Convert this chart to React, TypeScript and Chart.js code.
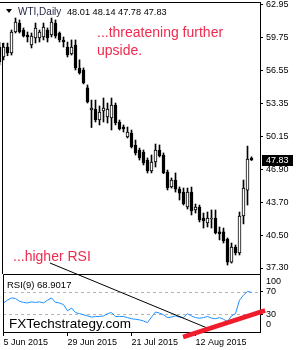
import React, { useEffect, useRef } from 'react';
import { Chart, registerables } from 'chart.js';

Chart.register(...registerables);

// ---- data ----
const symbolLabel = 'WTI,Daily';
const opens = [
  58.85, 57.88, 58.85, 58.27, 60.32, 61.19, 60.51, 60.02, 59.05, 59.73, 59.73, 59.83, 60.51, 60.02, 61.19, 60.22,
  59.54, 58.85, 58.17, 59.05, 56.81, 56.61, 54.86, 52.71, 52.81, 51.73, 52.61, 52.03, 51.93, 53.2, 51.54, 51.05,
  50.08, 50.47, 49.3, 48.81, 48.61, 47.83, 46.76, 47.64, 48.81, 48.32, 46.66, 45.2, 45.88, 45.0, 44.71, 43.25,
  44.71, 42.96, 43.25, 42.18, 41.69, 42.08, 42.18, 40.82, 40.82, 40.13, 37.88, 39.35, 38.77, 42.37, 44.9, 48.01,
];
const highs = [
  59.3, 59.24, 59.24, 60.51, 61.68, 61.49, 60.71, 60.32, 60.22, 61.19, 60.51, 61.19, 60.71, 61.68, 61.49, 60.32,
  59.83, 59.34, 59.54, 59.54, 57.6, 56.81, 55.15, 53.68, 53.68, 53.1, 53.88, 53.39, 53.88, 53.39, 51.73, 51.25,
  51.05, 50.76, 49.78, 49.0, 48.81, 48.03, 48.32, 49.39, 49.3, 48.52, 46.86, 46.08, 46.57, 45.2, 45.1, 45.1,
  45.2, 43.54, 43.44, 42.66, 42.76, 42.96, 42.96, 41.3, 41.2, 40.23, 39.74, 39.54, 42.76, 45.88, 49.19, 48.14,
];
const lows = [
  57.1, 57.59, 58.0, 58.07, 60.22, 60.22, 59.83, 59.34, 58.76, 59.24, 59.34, 59.54, 59.34, 59.83, 59.73, 59.34,
  58.85, 57.88, 58.07, 56.61, 56.2, 55.25, 53.39, 51.0, 51.54, 51.25, 51.54, 51.44, 50.76, 51.25, 50.76, 50.56,
  49.98, 49.0, 48.32, 47.83, 47.35, 46.57, 46.57, 47.15, 48.13, 46.5, 44.91, 45.1, 44.71, 43.93, 43.44, 43.05,
  42.47, 42.66, 41.79, 41.2, 41.3, 41.2, 40.62, 40.04, 39.74, 37.59, 37.78, 38.57, 38.57, 41.6, 43.44, 47.78,
];
const closes = [
  57.4, 58.85, 58.27, 60.32, 61.29, 60.32, 59.93, 59.83, 59.93, 60.71, 60.32, 60.8, 59.73, 61.29, 59.93, 59.54,
  59.34, 58.07, 58.85, 56.81, 56.32, 55.34, 53.49, 52.9, 51.73, 52.51, 52.9, 52.81, 53.2, 51.44, 50.86, 50.86,
  50.56, 49.1, 48.52, 48.03, 47.54, 46.76, 47.64, 48.81, 48.22, 46.57, 45.1, 45.88, 45.0, 44.61, 43.54, 44.71,
  42.86, 43.25, 41.98, 41.89, 42.18, 42.18, 40.72, 40.62, 39.94, 37.88, 39.35, 38.77, 42.37, 45.1, 47.93, 47.83,
];
// trading-day index of each candle (5 Jun 2015 = 0)
const barIndex = closes.map((_, i) => i - 1);

const rsiPeriod = 9;
const rsiValues = [
  50, 55, 59, 58, 53, 51, 50, 52, 51, 52, 50, 55, 59, 51, 50, 47,
  36, 41, 33, 31, 29, 27, 25, 26, 26, 27, 31, 33, 26, 26, 26, 24,
  22, 21, 20, 18, 15, 25, 34, 32, 29, 24, 25, 27, 25, 24, 31, 27,
  24, 23, 24, 26, 23, 22, 24, 21, 17, 27, 31, 55, 64, 70.5, 68.9017,
];
const rsiIndex = rsiValues.map((_, i) => i);

const priceTicks = [62.95, 59.75, 56.55, 53.35, 50.15, 46.9, 43.7, 40.5, 37.3];
const rsiLevels = [30, 70];
const rsiEdgeLabels = ['100', '0'];
const dateTickIndex = [0, 16, 32, 48];
const dateTickLabels = ['5 Jun 2015', '29 Jun 2015', '21 Jul 2015', '12 Aug 2015'];

const noteTop = ['...threatening further', 'upside.'];
const noteBottom = '...higher RSI';
const watermark = 'FXTechstrategy.com';

// trend lines: start on price panel (bar, price) -> end on RSI panel (bar, rsi)
const blackLineStart = { x: 11.6, y: 37.79 };
const blackLineEnd = { x: 51.6, y: 3.5 };
const redLine = [
  { x: 44.9, y: -10.5 },
  { x: 65.4, y: 36.6 },
];

const FONT = '"Liberation Sans", Arial, sans-serif';
const RED_TEXT = '#ee2a4e';

export default function App() {
  const mainRef = useRef<HTMLCanvasElement>(null);
  const rsiRef = useRef<HTMLCanvasElement>(null);

  useEffect(() => {
    document.body.style.margin = '0';

    const bodies = barIndex.map((k, i) => ({ x: k, y: [opens[i], closes[i]] }));
    const wicks = barIndex.map((k, i) => ({ x: k, y: [lows[i], highs[i]] }));
    const bodyColors = barIndex.map((_, i) => (closes[i] >= opens[i] ? '#ffffff' : '#000000'));

    const mainDecor = {
      id: 'mainDecor',
      afterDraw(chart: any) {
        const { ctx, chartArea, scales } = chart;
        ctx.save();
        ctx.strokeStyle = '#000';
        ctx.lineWidth = 1;
        ctx.beginPath();
        ctx.moveTo(0, chartArea.top - 0.5);
        ctx.lineTo(chartArea.right + 1, chartArea.top - 0.5);
        ctx.stroke();
        ctx.beginPath();
        ctx.moveTo(2.5, 43);
        ctx.lineTo(2.5, chartArea.bottom);
        ctx.stroke();

        // title
        ctx.fillStyle = '#000';
        ctx.beginPath();
        ctx.moveTo(6, 9);
        ctx.lineTo(12, 9);
        ctx.lineTo(9, 13);
        ctx.closePath();
        ctx.fill();
        ctx.textAlign = 'left';
        ctx.textBaseline = 'alphabetic';
        ctx.font = `10px ${FONT}`;
        ctx.fillStyle = '#1c2240';
        ctx.fillText(symbolLabel, 18, 15);
        const n = closes.length - 1;
        const ohlc = [opens[n], highs[n], lows[n], closes[n]].map((v) => v.toFixed(2)).join(' ');
        ctx.font = `9.2px ${FONT}`;
        ctx.fillStyle = '#000';
        ctx.fillText(ohlc, 67, 15);

        // notes
        ctx.fillStyle = RED_TEXT;
        ctx.font = `14px ${FONT}`;
        ctx.fillText(noteTop[0], 97, 37);
        ctx.fillText(noteTop[1], 97, 55);
        ctx.fillText(noteBottom, 13, 261);

        // last price tag
        const last = closes[n];
        const y = scales.y.getPixelForValue(last);
        ctx.fillStyle = '#000';
        ctx.fillRect(chartArea.right + 2, Math.round(y) - 5, 31, 11);
        ctx.fillStyle = '#fff';
        ctx.font = `9px ${FONT}`;
        ctx.textBaseline = 'middle';
        ctx.fillText(last.toFixed(2), chartArea.right + 6, Math.round(y) + 0.5);
        ctx.restore();
      },
    };

    const main = new Chart(mainRef.current as HTMLCanvasElement, {
      type: 'bar',
      data: {
        datasets: [
          {
            label: 'body',
            data: bodies as any,
            backgroundColor: bodyColors,
            borderColor: '#000',
            borderWidth: 1,
            borderSkipped: false,
            barThickness: 3,
            grouped: false,
            order: 0,
            minBarLength: 1,
          } as any,
          {
            label: 'wick',
            data: wicks as any,
            backgroundColor: '#000',
            borderWidth: 0,
            barThickness: 1,
            grouped: false,
            order: 1,
          } as any,
        ],
      },
      options: {
        animation: false,
        responsive: false,
        devicePixelRatio: 1,
        events: [],
        layout: { padding: { top: 3, left: 0, right: 0, bottom: 0 } },
        plugins: { legend: { display: false }, tooltip: { enabled: false } },
        scales: {
          x: { type: 'linear', display: false, min: -0.875, max: 64.125, offset: false },
          y: {
            position: 'right',
            min: 36.715,
            max: 63.145,
            afterBuildTicks: (s: any) => {
              s.ticks = priceTicks.map((v) => ({ value: v }));
            },
            afterFit: (s: any) => {
              s.width = 40;
              s.paddingTop = 0;
              s.paddingBottom = 0;
              s.paddingLeft = 0;
              s.paddingRight = 0;
            },
            ticks: {
              autoSkip: false,
              padding: 3,
              color: '#000',
              font: { family: FONT, size: 9 },
              callback: (v: any) => Number(v).toFixed(2),
            },
            grid: { drawOnChartArea: false, drawTicks: true, tickLength: 3, color: '#000' },
            border: { display: true, color: '#000', width: 1 },
          },
        },
      } as any,
      plugins: [mainDecor],
    });

    const rsiDecor = {
      id: 'rsiDecor',
      beforeDatasetsDraw(chart: any) {
        const { ctx, chartArea, scales } = chart;
        ctx.save();
        ctx.strokeStyle = '#b4b4b4';
        ctx.lineWidth = 1;
        ctx.setLineDash([3, 3]);
        rsiLevels.forEach((lv) => {
          const y = Math.round(scales.y.getPixelForValue(lv)) + 0.5;
          ctx.beginPath();
          ctx.moveTo(chartArea.left, y);
          ctx.lineTo(chartArea.right, y);
          ctx.stroke();
        });
        ctx.restore();
      },
      afterDraw(chart: any) {
        const { ctx, chartArea, scales } = chart;
        ctx.save();
        ctx.strokeStyle = '#000';
        ctx.lineWidth = 1;
        ctx.beginPath();
        ctx.moveTo(chartArea.left + 0.5, chartArea.bottom);
        ctx.lineTo(chartArea.left + 0.5, chartArea.top + 0.5);
        ctx.lineTo(chartArea.right + 1, chartArea.top + 0.5);
        ctx.stroke();

        ctx.fillStyle = '#000';
        ctx.font = `9px ${FONT}`;
        ctx.textAlign = 'left';
        ctx.textBaseline = 'middle';
        ctx.fillText(rsiEdgeLabels[0], chartArea.right + 6, chartArea.top + 8);
        ctx.fillText(rsiEdgeLabels[1], chartArea.right + 6, chartArea.bottom - 7);

        ctx.textBaseline = 'alphabetic';
        ctx.font = `9.5px ${FONT}`;
        ctx.fillText(`RSI(${rsiPeriod}) ${rsiValues[rsiValues.length - 1].toFixed(4)}`, 7, 288);

        ctx.font = `13.5px ${FONT}`;
        ctx.fillText(watermark, 9, 328);

        // black trend line from price panel to RSI panel
        const mx = main.scales.x;
        const my = main.scales.y;
        ctx.strokeStyle = '#000';
        ctx.lineWidth = 1;
        ctx.beginPath();
        ctx.moveTo(mx.getPixelForValue(blackLineStart.x), my.getPixelForValue(blackLineStart.y));
        ctx.lineTo(scales.x.getPixelForValue(blackLineEnd.x), scales.y.getPixelForValue(blackLineEnd.y));
        ctx.stroke();

        // red trend line on RSI
        ctx.strokeStyle = '#f01c2c';
        ctx.lineWidth = 4.5;
        ctx.beginPath();
        ctx.moveTo(scales.x.getPixelForValue(redLine[0].x), scales.y.getPixelForValue(redLine[0].y));
        ctx.lineTo(scales.x.getPixelForValue(redLine[1].x), scales.y.getPixelForValue(redLine[1].y));
        ctx.stroke();
        ctx.restore();
      },
    };

    const rsi = new Chart(rsiRef.current as HTMLCanvasElement, {
      type: 'line',
      data: {
        datasets: [
          {
            label: 'RSI',
            data: rsiIndex.map((k, i) => ({ x: k, y: rsiValues[i] })),
            borderColor: '#1e90ff',
            borderWidth: 1,
            pointRadius: 0,
            tension: 0,
            fill: false,
          },
        ],
      },
      options: {
        animation: false,
        responsive: false,
        devicePixelRatio: 1,
        events: [],
        layout: { padding: { top: 274, left: 3, right: 0, bottom: 0 } },
        plugins: { legend: { display: false }, tooltip: { enabled: false } },
        scales: {
          x: {
            type: 'linear',
            min: -0.125,
            max: 64.125,
            offset: false,
            afterBuildTicks: (s: any) => {
              s.ticks = dateTickIndex.map((v) => ({ value: v }));
            },
            afterFit: (s: any) => {
              s.height = 18;
              s.paddingLeft = 0;
              s.paddingRight = 0;
              s.paddingTop = 0;
              s.paddingBottom = 0;
            },
            ticks: {
              autoSkip: false,
              maxRotation: 0,
              minRotation: 0,
              align: 'start',
              padding: 1,
              color: '#000',
              font: { family: FONT, size: 9 },
              callback: (v: any) => {
                const i = dateTickIndex.indexOf(Number(v));
                return i >= 0 ? dateTickLabels[i] : '';
              },
            },
            grid: { drawOnChartArea: false, drawTicks: true, tickLength: 4, color: '#000' },
            border: { display: true, color: '#000', width: 1 },
          },
          y: {
            position: 'right',
            min: -1.6,
            max: 101.5,
            afterBuildTicks: (s: any) => {
              s.ticks = rsiLevels.map((v) => ({ value: v }));
            },
            afterFit: (s: any) => {
              s.width = 40;
              s.paddingTop = 0;
              s.paddingBottom = 0;
              s.paddingLeft = 0;
              s.paddingRight = 0;
            },
            ticks: {
              autoSkip: false,
              padding: 3,
              color: '#000',
              font: { family: FONT, size: 9 },
            },
            grid: { drawOnChartArea: false, drawTicks: true, tickLength: 3, color: '#000' },
            border: { display: true, color: '#000', width: 1 },
          },
        },
      } as any,
      plugins: [rsiDecor],
    });

    return () => {
      rsi.destroy();
      main.destroy();
    };
  }, []);

  return (
    <div style={{ position: 'relative', width: 300, height: 350, background: '#fff' }}>
      <canvas
        ref={mainRef}
        width={300}
        height={274}
        style={{ position: 'absolute', left: 0, top: 0, width: 300, height: 274 }}
      />
      <canvas
        ref={rsiRef}
        width={300}
        height={350}
        style={{ position: 'absolute', left: 0, top: 0, width: 300, height: 350 }}
      />
    </div>
  );
}
